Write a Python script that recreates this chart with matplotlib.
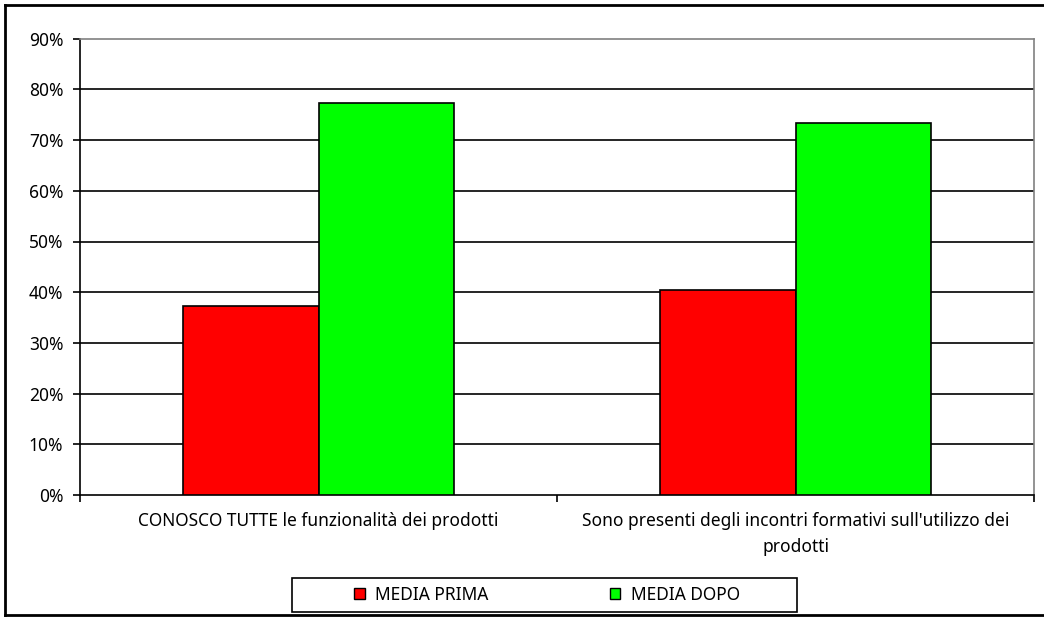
import numpy as np
import matplotlib.pyplot as plt
from matplotlib.patches import Rectangle, Patch
from matplotlib.lines import Line2D
from matplotlib.ticker import PercentFormatter

W, H, DPI = 1044, 617, 100

categories = ["CONOSCO TUTTE le funzionalità dei prodotti",
              "Sono presenti degli incontri formativi sull'utilizzo dei\nprodotti"]
media_prima = [0.373, 0.404]
media_dopo = [0.773, 0.733]
series_names = ["MEDIA PRIMA", "MEDIA DOPO"]
series_colors = ["#ff0000", "#00ff00"]

plt.rcParams['font.family'] = ['Noto Sans', 'DejaVu Sans']
plt.rcParams['font.size'] = 12.5


def px(x0, y0, x1, y1):
    """ rect en pixels (haut-gauche) -> coordonnées figure """
    return [x0 / W, 1 - y1 / H, (x1 - x0) / W, (y1 - y0) / H]


fig = plt.figure(figsize=(W / DPI, H / DPI), dpi=DPI)
ax = fig.add_axes(px(80, 38.7, 1034, 495))

x = np.arange(len(categories))
bw = 0.285
ax.bar(x - bw / 2, media_prima, bw, color=series_colors[0], edgecolor='black',
       linewidth=1.2, zorder=3)
ax.bar(x + bw / 2, media_dopo, bw, color=series_colors[1], edgecolor='black',
       linewidth=1.2, zorder=3)

ax.set_xlim(-0.5, len(categories) - 0.5)
ax.set_ylim(0, 0.9)
ax.set_yticks(np.arange(0, 0.91, 0.1))
ax.yaxis.set_major_formatter(PercentFormatter(1.0, decimals=0))
for y in np.arange(0.1, 0.85, 0.1):
    ax.axhline(y, color='black', linewidth=1.2, zorder=1)

# ticks aux frontières des catégories, labels au centre
ax.set_xticks(np.arange(-0.5, len(categories), 1.0))
ax.set_xticklabels([])
ax.set_xticks(x, minor=True)
ax.set_xticklabels(categories, minor=True, linespacing=1.6)
ax.tick_params(axis='x', which='minor', length=0, pad=12)
ax.tick_params(axis='both', which='major', direction='out', length=5,
               width=1.2, color='black')
ax.tick_params(axis='y', pad=7)

for s in ['left', 'bottom']:
    ax.spines[s].set_color('black')
    ax.spines[s].set_linewidth(1.2)
for s in ['top', 'right']:
    ax.spines[s].set_color('#808080')
    ax.spines[s].set_linewidth(1.2)

# légende
box = Rectangle((292 / W, 1 - 612 / H), (797 - 292) / W, (612 - 578) / H,
                transform=fig.transFigure, facecolor='white',
                edgecolor='black', linewidth=1.2)
fig.patches.append(box)
handles = [Patch(facecolor=c, edgecolor='black', linewidth=1) for c in series_colors]
fig.legend(handles, series_names, loc='center', ncol=2,
           bbox_to_anchor=(547 / W, 1 - 595 / H), frameon=False,
           handlelength=0.6, handleheight=0.6, handletextpad=0.6,
           columnspacing=7.0)

# cadre extérieur
for (xa, ya, xb, yb) in [(5, 5, 5, 615), (5, 5, 1044, 5), (5, 615, 1044, 615)]:
    fig.add_artist(Line2D([xa / W, xb / W], [1 - ya / H, 1 - yb / H],
                          transform=fig.transFigure, color='black',
                          linewidth=2))

fig.savefig("out.png", dpi=DPI)
